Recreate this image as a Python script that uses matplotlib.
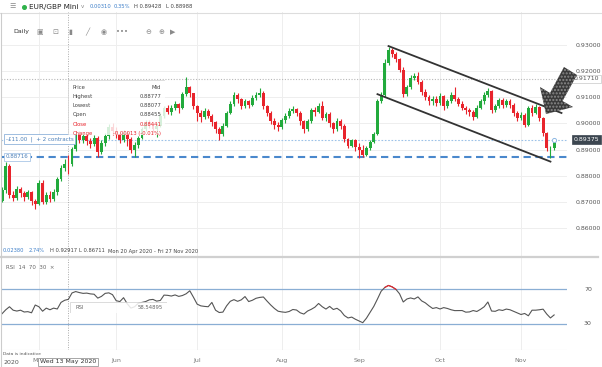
import numpy as np
import pandas as pd
import matplotlib
matplotlib.use('Agg')
import matplotlib.pyplot as plt
from matplotlib.patches import Polygon, Rectangle
from matplotlib.lines import Line2D
import matplotlib.transforms as mtransforms

# ---- data (EUR/GBP Mini, daily) ----
dates = pd.bdate_range('2020-04-17', '2020-11-13')
first_open = 0.8705
closes = [0.8744, 0.8838, 0.8728, 0.8716, 0.8748, 0.8732, 0.8718, 0.8736, 0.8704, 0.8690,
          0.8772, 0.8700, 0.8726, 0.8711, 0.8738, 0.8788, 0.8830, 0.88455, 0.88441, 0.8902,
          0.8958, 0.8937, 0.8951, 0.8931, 0.8920, 0.8946, 0.8892, 0.8925, 0.8952, 0.8985,
          0.8970, 0.8958, 0.8935, 0.8962, 0.8940, 0.8898, 0.8918, 0.8945, 0.8978, 0.9002,
          0.8995, 0.8978, 0.8990, 0.9028, 0.9058, 0.9045, 0.9060, 0.9075, 0.9058, 0.9112,
          0.9140, 0.9115, 0.9065, 0.9040, 0.9025, 0.9048, 0.9030, 0.9005, 0.8978, 0.8958,
          0.8990, 0.9040, 0.9075, 0.9110, 0.9092, 0.9065, 0.9085, 0.9072, 0.9098, 0.9110,
          0.9118, 0.9065, 0.9040, 0.9010, 0.8995, 0.8985, 0.9012, 0.9030, 0.9048, 0.9055,
          0.9040, 0.9010, 0.8978, 0.9008, 0.9050, 0.9045, 0.9068, 0.9020, 0.9035, 0.9000,
          0.8978, 0.9010, 0.8990, 0.8940, 0.8915, 0.8935, 0.8908, 0.8900, 0.8880, 0.8905,
          0.8930, 0.8960, 0.9085, 0.9110, 0.9232, 0.9280, 0.9265, 0.9245, 0.9205, 0.9112,
          0.9138, 0.9175, 0.9182, 0.9160, 0.9120, 0.9100, 0.9085, 0.9095, 0.9078, 0.9105,
          0.9065, 0.9085, 0.9110, 0.9092, 0.9075, 0.9060, 0.9050, 0.9042, 0.9025, 0.9060,
          0.9085, 0.9110, 0.9125, 0.9050, 0.9065, 0.9090, 0.9072, 0.9085, 0.9070, 0.9040,
          0.9020, 0.9032, 0.8995, 0.9060, 0.9038, 0.9062, 0.9020, 0.8962, 0.8905, 0.89065,
          0.89375]
highs = [0.8758, 0.8852, 0.8845, 0.8742, 0.8762, 0.8756, 0.8741, 0.8747, 0.8742, 0.8712,
         0.8785, 0.8783, 0.8736, 0.8740, 0.8749, 0.8795, 0.8842, 0.8862, 0.88777, 0.8910,
         0.8968, 0.8972, 0.8962, 0.8960, 0.8944, 0.8956, 0.8950, 0.8935, 0.8962, 0.8998,
         0.9002, 0.8985, 0.8968, 0.8975, 0.8970, 0.8948, 0.8928, 0.8952, 0.8985, 0.9012,
         0.9015, 0.9002, 0.9000, 0.9040, 0.9068, 0.9072, 0.9070, 0.9085, 0.9080, 0.9122,
         0.9177, 0.9145, 0.9118, 0.9070, 0.9052, 0.9058, 0.9055, 0.9035, 0.9010, 0.8985,
         0.9000, 0.9048, 0.9085, 0.9122, 0.9118, 0.9098, 0.9095, 0.9090, 0.9108, 0.9120,
         0.9135, 0.9125, 0.9072, 0.9048, 0.9020, 0.9005, 0.9022, 0.9040, 0.9058, 0.9068,
         0.9060, 0.9048, 0.9015, 0.9018, 0.9058, 0.9062, 0.9078, 0.9085, 0.9045, 0.9042,
         0.9005, 0.9022, 0.9018, 0.8998, 0.8945, 0.8942, 0.8940, 0.8925, 0.8918, 0.8912,
         0.8938, 0.8968, 0.9095, 0.9122, 0.9245, 0.92917, 0.9288, 0.9272, 0.9252, 0.9215,
         0.9148, 0.9185, 0.9192, 0.9195, 0.9168, 0.9130, 0.9108, 0.9105, 0.9105, 0.9115,
         0.9110, 0.9095, 0.9120, 0.9140, 0.9100, 0.9085, 0.9068, 0.9060, 0.9050, 0.9070,
         0.9095, 0.9120, 0.9135, 0.9128, 0.9075, 0.9098, 0.9098, 0.9095, 0.9092, 0.9078,
         0.9048, 0.9042, 0.9040, 0.9068, 0.9070, 0.9075, 0.9068, 0.9025, 0.8968, 0.8912,
         0.89428]
lows = [0.8698, 0.8735, 0.8715, 0.8702, 0.8708, 0.8720, 0.8703, 0.8710, 0.8688, 0.86711,
        0.8686, 0.8692, 0.8690, 0.8698, 0.8704, 0.8727, 0.8781, 0.8818, 0.88077, 0.8838,
        0.8893, 0.8925, 0.8926, 0.8916, 0.8906, 0.8913, 0.8872, 0.8884, 0.8915, 0.8940,
        0.8955, 0.8945, 0.8925, 0.8928, 0.8915, 0.8885, 0.88716, 0.8905, 0.8940, 0.8970,
        0.8982, 0.8962, 0.8948, 0.8985, 0.9020, 0.9035, 0.9032, 0.9050, 0.9040, 0.9055,
        0.9105, 0.9100, 0.9055, 0.9010, 0.9005, 0.9018, 0.9020, 0.8990, 0.8965, 0.8936,
        0.8950, 0.8985, 0.9035, 0.9068, 0.9078, 0.9055, 0.9058, 0.9060, 0.9065, 0.9090,
        0.9102, 0.9055, 0.9030, 0.8998, 0.8980, 0.8972, 0.8978, 0.9000, 0.9020, 0.9040,
        0.9028, 0.8995, 0.8965, 0.8970, 0.9000, 0.9030, 0.9040, 0.9012, 0.9010, 0.8985,
        0.8965, 0.8972, 0.8980, 0.8930, 0.8905, 0.8908, 0.8895, 0.8867, 0.8872, 0.8875,
        0.8898, 0.8925, 0.8955, 0.9078, 0.9100, 0.9225, 0.9255, 0.9235, 0.9195, 0.9100,
        0.9105, 0.9130, 0.9168, 0.9150, 0.9110, 0.9088, 0.9072, 0.9070, 0.9065, 0.9070,
        0.9050, 0.9058, 0.9080, 0.9085, 0.9065, 0.9050, 0.9035, 0.9030, 0.9015, 0.9020,
        0.9055, 0.9075, 0.9100, 0.9040, 0.9045, 0.9060, 0.9060, 0.9062, 0.9058, 0.9030,
        0.9010, 0.9012, 0.8985, 0.8990, 0.9028, 0.9035, 0.9010, 0.8950, 0.8895, 0.8867,
        0.88988]
rsi = [42.0, 46.5, 50.0, 46.0, 45.0, 46.0, 43.9, 44.3, 43.0, 52.0,
       50.0, 44.8, 48.4, 46.5, 48.4, 47.4, 55.0, 57.5, 58.54895, 66.0,
       67.6, 66.4, 65.5, 65.8, 64.9, 64.5, 60.0, 62.0, 65.5, 66.1,
       64.0, 57.0, 56.0, 60.5, 53.5, 48.4, 50.0, 54.0, 55.0, 56.0,
       58.0, 58.5, 56.5, 57.3, 63.5, 63.2, 62.4, 63.7, 62.0, 63.0,
       65.0, 68.5, 61.0, 53.0, 51.0, 50.4, 50.0, 55.0, 46.0, 43.3,
       43.8, 51.0, 56.3, 58.2, 56.3, 58.0, 61.8, 56.0, 57.5, 59.8,
       60.8, 61.3, 56.5, 52.0, 48.0, 44.8, 44.0, 43.5, 44.5, 46.8,
       46.2, 43.0, 41.5, 45.0, 47.0, 49.5, 53.8, 50.0, 47.3, 50.4,
       46.8, 48.2, 45.2, 39.8, 37.0, 38.0, 35.5, 33.5, 31.5, 36.7,
       43.5, 50.4, 59.0, 68.0, 72.4, 74.7, 73.0, 70.2, 65.0, 55.5,
       59.0, 60.2, 59.0, 61.4, 56.8, 54.5, 51.0, 48.0, 49.0, 47.4,
       49.0, 48.0, 46.5, 45.5, 45.5, 45.6, 43.7, 44.0, 45.6, 44.5,
       47.0, 50.0, 55.5, 45.0, 44.7, 46.5, 45.7, 47.3, 46.5, 44.7,
       42.9, 41.0, 42.2, 39.5, 46.0, 46.0, 46.5, 47.2, 41.5, 37.0,
       40.5]
price_ticks = [0.86, 0.87, 0.88, 0.89, 0.90, 0.91, 0.92, 0.93]
support_level = 0.88716
resistance_level = 0.91710
last_price = 0.89375
cursor_date = '2020-05-13'
cursor_change = -0.00013
cursor_change_pct = -0.01
# descending channel drawn on the chart: (date, price)
channel_upper = [('2020-09-11', 0.9296), ('2020-11-17', 0.9040)]
channel_lower = [('2020-09-08', 0.9112), ('2020-11-12', 0.8854)]

start = dates[0].strftime('%Y-%m-%d')


def pos(d):
    return np.busday_count(start, pd.Timestamp(d).strftime('%Y-%m-%d'))


x = np.arange(len(dates))
opens = [first_open] + closes[:-1]
month_pos = [i for i in range(1, len(dates)) if dates[i].month != dates[i - 1].month]
month_names = [dates[i].strftime('%b') for i in month_pos]

W, H = 602, 367


def fx(px):
    return px / W


def fy(py):
    return 1 - py / H


GREEN = '#22aa3c'
RED = '#e8242c'
GRID = '#eeeeee'
TXT = '#555555'
BLUE = '#3d7fc9'

fig = plt.figure(figsize=(6.02, 3.67), dpi=100)
ax = fig.add_axes([fx(1), fy(256), fx(566), fy(12) - fy(256)])
ax_rsi = fig.add_axes([fx(1), fy(350), fx(566), fy(258) - fy(350)])

xlim = (-0.3, 153.5)
for a in (ax, ax_rsi):
    a.set_xlim(*xlim)
    a.set_xticks(month_pos)
    a.grid(axis='x', color=GRID, lw=0.7)
    for s in a.spines.values():
        s.set_visible(False)
    a.tick_params(length=0)
    a.set_axisbelow(True)

# ---- price panel ----
ax.set_ylim(0.84927, 0.94264)
ax.set_yticks(price_ticks)
ax.set_yticklabels([f'{p:.5f}' for p in price_ticks], fontsize=4.5, color=TXT)
ax.yaxis.tick_right()
ax.tick_params(axis='y', pad=6)
ax.grid(axis='y', color=GRID, lw=0.7)
ax.set_xticklabels([])

cols = [GREEN if c >= o else RED for o, c in zip(opens, closes)]
ax.vlines(x, lows, highs, colors=cols, lw=0.8, zorder=3)
bottoms = np.minimum(opens, closes)
heights = np.maximum(np.abs(np.array(closes) - np.array(opens)), 0.0001)
ax.bar(x, heights, bottom=bottoms, width=0.78, color=cols, lw=0, zorder=4)

ax.axhline(resistance_level, color='#b8b8b8', lw=0.8, ls=(0, (1, 1.5)), zorder=2)
ax.axhline(last_price, color='#9cc2e8', lw=0.8, ls=(0, (1.5, 1.5)), zorder=2)
ax.axhline(support_level, color='#4a88cc', lw=1.5, ls=(0, (3.5, 2.2)), zorder=2)
ax.plot(x[-1], last_price, 'o', ms=3, mfc='white', mec='#8db8e3', mew=0.7, zorder=6)

# channel
for seg in (channel_upper, channel_lower):
    ax.plot([pos(d) for d, _ in seg], [p for _, p in seg], color='#333333', lw=1.3, zorder=5)

# right-side price tags
tr = mtransforms.blended_transform_factory(ax.transAxes, ax.transData)
ax.text(1.012, resistance_level, f'{resistance_level:.5f}', transform=tr, fontsize=4.5,
        color=TXT, va='center', ha='left',
        bbox=dict(boxstyle='square,pad=0.25', fc='white', ec='#c8c8c8', lw=0.5))
ax.text(1.012, last_price, f'{last_price:.5f}', transform=tr, fontsize=4.5,
        color='white', va='center', ha='left',
        bbox=dict(boxstyle='square,pad=0.3', fc='#3c4650', ec='#3c4650', lw=0.5))

# left-side tags
ax.text(0.008, last_price + 0.0003, '-£11.00  |  + 2 contracts', transform=tr, fontsize=4,
        color='#4a7fb8', va='center', ha='left',
        bbox=dict(boxstyle='square,pad=0.35', fc='white', ec='#8fb3da', lw=0.6), zorder=7)
ax.text(0.008, support_level, f'{support_level:.5f}', transform=tr, fontsize=4,
        color='#4a7fb8', va='center', ha='left',
        bbox=dict(boxstyle='square,pad=0.35', fc='white', ec='#a9c6e6', lw=0.6), zorder=7)

# crosshair
cx = pos(cursor_date)
for a in (ax, ax_rsi):
    a.axvline(cx, color='#aaaaaa', lw=0.7, ls=(0, (1, 1.5)), zorder=1)

# OHLC tooltip for the hovered candle
ci = int(cx)
tip = fig.add_axes([fx(68), fy(135), fx(97), fy(80) - fy(135)])
tip.set_xlim(0, 1)
tip.set_ylim(0, 1)
tip.axis('off')
tip.add_patch(Rectangle((0, 0), 1, 1, transform=tip.transAxes, fc='white', alpha=0.82,
                        ec='#cfcfcf', lw=0.6))
rows = [('Price', 'Mid', '#444444'),
        ('Highest', f'{highs[ci]:.5f}', '#444444'),
        ('Lowest', f'{lows[ci]:.5f}', '#444444'),
        ('Open', f'{opens[ci]:.5f}', '#444444'),
        ('Close', f'{closes[ci]:.5f}', RED),
        ('Change', f'{cursor_change:.5f} ({cursor_change_pct:.2f}%)', RED)]
for k, (lab, val, c) in enumerate(rows):
    yy = 0.86 - k * 0.165
    tip.text(0.05, yy, lab, fontsize=3.8, color=c, va='center')
    tip.text(0.96, yy, val, fontsize=3.8, color=c, va='center', ha='right')

# RSI tooltip
rtip = fig.add_axes([fx(70), fy(313), fx(97), fy(302) - fy(313)])
rtip.axis('off')
rtip.add_patch(Rectangle((0, 0), 1, 1, transform=rtip.transAxes, fc='white', alpha=0.85,
                         ec='#cfcfcf', lw=0.6))
rtip.text(0.06, 0.5, 'RSI', fontsize=3.8, color='#666666', va='center')
rtip.text(0.96, 0.5, f'{rsi[ci]:.5f}', fontsize=3.8, color='#666666', va='center', ha='right')

# big annotation arrow pointing at the channel break
arrow_px = [(577, 75), (562.5, 101), (573, 107), (546, 114), (540, 87), (550, 93), (564, 67)]
fig.patches.append(Polygon([(fx(a), fy(b)) for a, b in arrow_px], closed=True,
                           transform=fig.transFigure, fc='#3a3a3a', ec='#8c8c8c', lw=0,
                           hatch='.....', zorder=10))

# ---- RSI panel ----
ax_rsi.set_ylim(-0.15, 106.5)
ax_rsi.set_yticks([])
ax_rsi.set_xticklabels(month_names, fontsize=4.5, color='#777777')
ax_rsi.tick_params(axis='x', pad=6)
tr_r = mtransforms.blended_transform_factory(ax_rsi.transAxes, ax_rsi.transData)
for lvl in (70, 30):
    ax_rsi.axhline(lvl, color='#8aaed4', lw=0.9, zorder=2)
    ax_rsi.text(1.037, lvl, str(lvl), transform=tr_r, fontsize=4.5, color=TXT,
                va='center', ha='center')
rsi_arr = np.array(rsi)
ax_rsi.plot(x, rsi_arr, color='#555555', lw=0.8, zorder=3)
ax_rsi.plot(x, np.where(rsi_arr >= 70, rsi_arr, np.nan), color=RED, lw=0.8, zorder=4)
ax_rsi.text(0.008, 0.9, 'RSI  14  70  30  ×', transform=ax_rsi.transAxes, fontsize=4,
            color='#666666', va='center')
ax_rsi.axhline(ax_rsi.get_ylim()[0], color='#e6e6e6', lw=0.8)

# ---- chrome: header, toolbar, footer texts ----
fig.add_artist(Line2D([0, 1], [fy(12.5), fy(12.5)], color='#dddddd', lw=0.8))
fig.add_artist(Line2D([0, fx(598)], [fy(256.5), fy(256.5)], color='#d0d0d0', lw=1.6))
fig.add_artist(Line2D([fx(0.6), fx(0.6)], [fy(367), fy(12.5)], color='#cccccc', lw=0.8))
fig.text(fx(9), fy(6.5), '☰', fontsize=5, color='#888888', va='center')
fig.add_artist(Line2D([fx(24)], [fy(6.5)], marker='o', ms=2.6, color='#2fb24a', lw=0))
fig.text(fx(29), fy(6.5), 'EUR/GBP Mini', fontsize=5.2, color='#222222', va='center')
fig.text(fx(81), fy(6.2), 'v', fontsize=4, color='#888888', va='center')
fig.text(fx(90), fy(6.5), '0.00310', fontsize=3.8, color=BLUE, va='center')
fig.text(fx(114), fy(6.5), '0.35%', fontsize=3.8, color=BLUE, va='center')
fig.text(fx(134), fy(6.5), 'H 0.89428', fontsize=3.8, color='#444444', va='center')
fig.text(fx(166), fy(6.5), 'L 0.88988', fontsize=3.8, color='#444444', va='center')

fig.text(fx(13), fy(32), 'Daily', fontsize=4.5, color='#333333', va='center')
icons = [(36, '▣'), (52, '⊡'), (68, '▮'), (85, '╱'), (101, '◉'), (116, '•••'),
         (145, '⊖'), (158, '⊕'), (170, '▶')]
for px, ic in icons:
    fig.text(fx(px), fy(32), ic, fontsize=5, color='#8a8a8a', va='center')

fig.text(fx(3), fy(251), '0.02380', fontsize=3.7, color=BLUE, va='center')
fig.text(fx(29), fy(251), '2.74%', fontsize=3.7, color=BLUE, va='center')
fig.text(fx(50), fy(251), 'H 0.92917', fontsize=3.7, color='#444444', va='center')
fig.text(fx(79), fy(251), 'L 0.86711', fontsize=3.7, color='#444444', va='center')
fig.text(fx(108), fy(251), 'Mon 20 Apr 2020 - Fri 27 Nov 2020', fontsize=3.7,
         color='#444444', va='center')

fig.text(fx(3), fy(354), 'Data is indicative', fontsize=3.2, color='#555555', va='center')
fig.text(fx(3), fy(362), '2020', fontsize=4.5, color='#555555', va='center')
cur_px = 1 + (cx - xlim[0]) / (xlim[1] - xlim[0]) * 566
fig.text(fx(cur_px), fy(362), pd.Timestamp(cursor_date).strftime('Wed %d May %Y'),
         fontsize=4.5, color='#333333', va='center', ha='center', zorder=12,
         bbox=dict(boxstyle='square,pad=0.3', fc='white', ec='#999999', lw=0.6))

fig.savefig('out.png', dpi=100)
